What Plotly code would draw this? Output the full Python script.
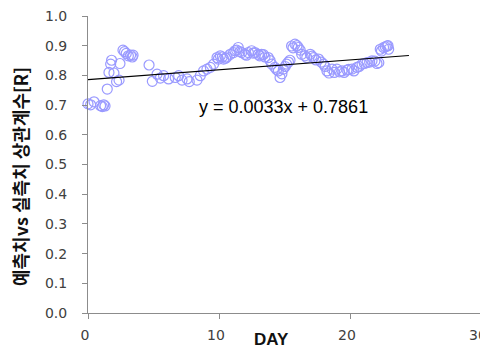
import plotly.graph_objects as go

day = [0.0, 0.2, 0.46, 0.96, 1.09, 1.2, 1.3, 1.47, 1.6, 1.73, 1.8, 1.98, 2.18, 2.37, 2.44,
       2.67, 2.79, 2.92, 3.08, 3.25, 3.38, 3.44, 4.66, 4.91, 5.27, 5.52, 5.77, 6.15, 6.66,
       6.92, 7.18, 7.56, 7.73, 8.32, 8.57, 8.82, 9.08, 9.34, 9.59, 9.85, 9.95, 10.1, 10.25,
       10.35, 10.5, 10.61, 10.86, 11.11, 11.22, 11.35, 11.47, 11.6, 11.73, 11.98, 12.1,
       12.24, 12.49, 12.6, 12.75, 13.0, 13.1, 13.25, 13.4, 13.51, 13.76, 13.9, 14.02,
       14.27, 14.4, 14.53, 14.66, 14.8, 14.91, 15.05, 15.16, 15.3, 15.42, 15.54, 15.65,
       15.8, 15.95, 16.05, 16.2, 16.31, 16.56, 16.7, 16.97, 17.1, 17.22, 17.4, 17.6, 17.8,
       17.98, 18.1, 18.24, 18.4, 18.63, 18.8, 19.0, 19.2, 19.39, 19.55, 19.77, 19.9, 20.15,
       20.3, 20.53, 20.7, 20.92, 21.1, 21.3, 21.5, 21.68, 21.9, 22.06, 22.2, 22.31, 22.4,
       22.56, 22.7, 22.82, 22.9, 22.95]
r_value = [0.704, 0.701, 0.711, 0.698, 0.695, 0.701, 0.697, 0.754, 0.81, 0.838, 0.851, 0.808,
           0.779, 0.784, 0.84, 0.885, 0.88, 0.874, 0.866, 0.868, 0.862, 0.868, 0.835, 0.78,
           0.804, 0.791, 0.799, 0.788, 0.793, 0.799, 0.784, 0.788, 0.779, 0.784, 0.799, 0.815,
           0.821, 0.827, 0.838, 0.86, 0.855, 0.866, 0.862, 0.855, 0.858, 0.862, 0.871, 0.877,
           0.883, 0.885, 0.894, 0.88, 0.877, 0.871, 0.868, 0.877, 0.883, 0.875, 0.877, 0.871,
           0.866, 0.871, 0.87, 0.862, 0.86, 0.85, 0.838, 0.827, 0.82, 0.815, 0.793, 0.805,
           0.821, 0.83, 0.838, 0.845, 0.851, 0.899, 0.893, 0.905, 0.9, 0.894, 0.885, 0.871,
           0.866, 0.86, 0.871, 0.865, 0.86, 0.852, 0.855, 0.845, 0.838, 0.83, 0.815, 0.808,
           0.821, 0.81, 0.821, 0.812, 0.815, 0.81, 0.818, 0.82, 0.821, 0.815, 0.827, 0.83,
           0.838, 0.84, 0.843, 0.845, 0.849, 0.848, 0.84, 0.843, 0.888, 0.882, 0.894, 0.896,
           0.899, 0.9, 0.888]

# Linear trendline shown in the chart
trend_slope = 0.0033
trend_intercept = 0.7861
trend_x = [0.0, 24.5]
trend_y = [trend_intercept + trend_slope * x for x in trend_x]
trend_label = "y = 0.0033x + 0.7861"

x_ticks = [0, 10, 20, 30]
y_ticks = [0.0, 0.1, 0.2, 0.3, 0.4, 0.5, 0.6, 0.7, 0.8, 0.9, 1.0]

# page body has an 8px margin, so the figure is drawn offset by 8px
OFF = 8
W, H = 488 - OFF, 349 - OFF
ml, mr, mt, mb = 80, 7, 8, 36

fig = go.Figure()
fig.add_trace(go.Scatter(
    x=day, y=r_value, mode="markers",
    marker=dict(symbol="circle-open", size=10, color="#9a9aff",
                line=dict(width=1.2, color="#9a9aff")),
    showlegend=False, hoverinfo="x+y", cliponaxis=False))
fig.add_trace(go.Scatter(
    x=trend_x, y=trend_y, mode="lines",
    line=dict(color="black", width=1.2), showlegend=False))

fig.add_annotation(x=14.9, y=0.692, xref="x", yref="y", text=trend_label,
                   xanchor="center", yanchor="middle",
                   showarrow=False, font=dict(family="Liberation Sans", size=18, color="black"))
fig.add_annotation(x=271, y=339, xref="paper", yref="paper", text="<b>DAY</b>",
                   xanchor="center", yanchor="middle",
                   showarrow=False, font=dict(family="Liberation Sans", size=17, color="#111"))
fig.add_annotation(x=20, y=177, xref="paper", yref="paper",
                   text="<b>예측치vs 실측치 상관계수[R]</b>", textangle=-90,
                   xanchor="center", yanchor="middle", showarrow=False,
                   font=dict(family="Noto Sans CJK KR", size=18, color="#111"))

# convert screenshot-pixel annotation positions to paper coordinates
for ann in fig.layout.annotations[1:]:
    px, py = ann.x - OFF, ann.y - OFF
    ann.x = (px - ml) / (W - ml - mr)
    ann.y = 1 - (py - mt) / (H - mt - mb)

axis_common = dict(showgrid=False, zeroline=False, showline=True, linecolor="#8c8c8c",
                   linewidth=1, ticks="outside", ticklen=5, tickcolor="#8c8c8c",
                   automargin=False, ticklabeloverflow="allow",
                   tickfont=dict(family="DejaVu Sans", size=14, color="#404040"))
fig.update_xaxes(range=[0, 30], tickvals=x_ticks, ticktext=[str(v) for v in x_ticks],
                 ticklabelstandoff=4, ticklabelshift=-3, **axis_common)
fig.update_yaxes(range=[0, 1], tickvals=y_ticks, ticktext=[f"{v:.1f}" for v in y_ticks],
                 ticklabelstandoff=12, **axis_common)
fig.update_layout(width=W, height=H, margin=dict(l=ml, r=mr, t=mt, b=mb),
                  plot_bgcolor="white", paper_bgcolor="white")
fig.write_html("out.html")
